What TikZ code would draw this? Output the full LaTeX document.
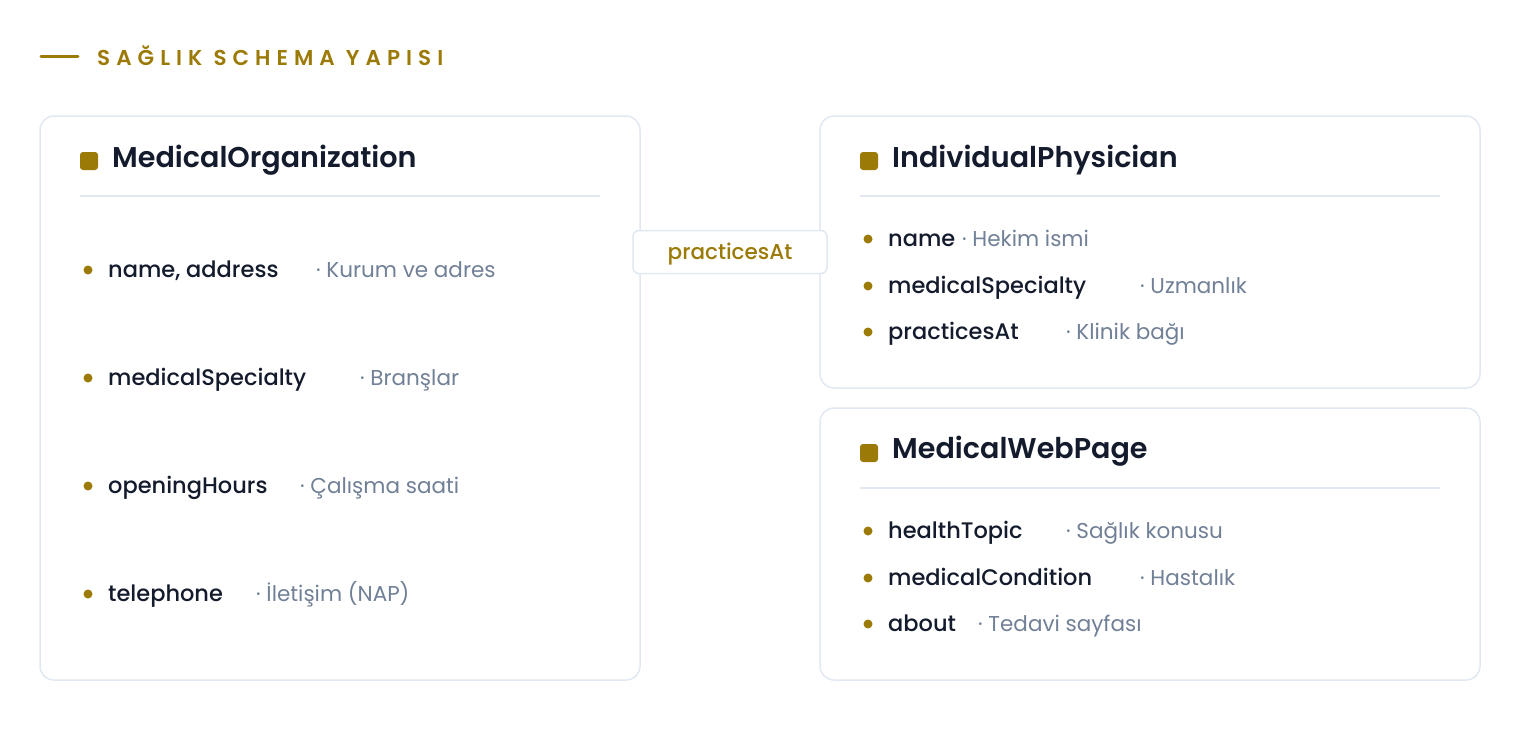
\documentclass[tikz,border=0pt]{standalone}
\usepackage{fontspec}
\setmainfont{Poppins}[UprightFont={Poppins Medium},BoldFont={Poppins SemiBold}]
\newfontfamily\dscfont{Poppins}
\newfontfamily\headfont[LetterSpace=28]{Poppins SemiBold}
\definecolor{gold}{HTML}{9C7A08}
\definecolor{ink}{HTML}{141B2D}
\definecolor{muted}{HTML}{718096}
\definecolor{cardline}{HTML}{E2E8F0}
\begin{document}
\begin{tikzpicture}[x=1pt,y=-1pt,
    card/.style={draw=cardline,line width=1.5pt,rounded corners=14pt,fill=white},
    sep/.style={draw=cardline,line width=1.5pt},
    sq/.style={fill=gold,rounded corners=3pt,minimum size=18pt,inner sep=0pt},
    dot/.style={circle,fill=gold,minimum size=9pt,inner sep=0pt},
    ttl/.style={anchor=west,inner sep=0pt,text=ink,font=\fontsize{28.6}{32}\selectfont\bfseries},
    fld/.style={anchor=west,inner sep=0pt,text=ink,text height=18pt,text depth=3pt,font=\fontsize{22.5}{26}\selectfont},
    dsc/.style={anchor=west,inner sep=0pt,text=muted,text height=18pt,text depth=3pt,font=\dscfont\fontsize{21.5}{26}\selectfont},
    tag/.style={draw=cardline,line width=1.5pt,fill=white,rounded corners=6pt,
        minimum width=194pt,minimum height=43pt,text=gold,text height=18pt,text depth=3pt,
        font=\fontsize{21.5}{24}\selectfont}]
    \useasboundingbox (0,0) rectangle (1520,740);
    % tieu de
    \draw[gold,line width=3pt,line cap=round] (41,56) -- (78,56);
    \node[anchor=west,inner sep=0pt,text=gold,font=\headfont\fontsize{21.5}{24}\selectfont]
        (head) at (97,56) {SAĞLIK SCHEMA YAPISI};
    % MedicalOrganization
    \draw[card] (40,116) rectangle (640,680);
    \path
    (89,161) node[sq] (orgsq) {}
    ++(23,-1) node[ttl] (org) {MedicalOrganization};
    \draw[sep] (80,196) -- (600,196);
    \path
    (88,270) node[dot] (o1) {} ++(20,0) node[fld] (o1n) {name, address}
    (88,378) node[dot] (o2) {} ++(20,0) node[fld] (o2n) {medicalSpecialty}
    (88,486) node[dot] (o3) {} ++(20,0) node[fld] (o3n) {openingHours}
    (88,594) node[dot] (o4) {} ++(20,0) node[fld] (o4n) {telephone};
    \path
    (316,270) node[dsc] (o1d) {· Kurum ve adres}
    (360,378) node[dsc] (o2d) {· Branşlar}
    (300,486) node[dsc] (o3d) {· Çalışma saati}
    (256,594) node[dsc] (o4d) {· İletişim (NAP)};
    % IndividualPhysician
    \draw[card] (820,116) rectangle (1480,388);
    \path
    (869,161) node[sq] (docsq) {}
    ++(23,-1) node[ttl] (doc) {IndividualPhysician};
    \draw[sep] (860,196) -- (1440,196);
    \path
    (868,239) node[dot] (d1) {} ++(20,0) node[fld] (d1n) {name}
    (868,286) node[dot] (d2) {} ++(20,0) node[fld] (d2n) {medicalSpecialty}
    (868,332) node[dot] (d3) {} ++(20,0) node[fld] (d3n) {practicesAt};
    \path
    (962,239) node[dsc] (d1d) {· Hekim ismi}
    (1140,286) node[dsc] (d2d) {· Uzmanlık}
    (1066,332) node[dsc] (d3d) {· Klinik bağı};
    % MedicalWebPage
    \draw[card] (820,408) rectangle (1480,680);
    \path
    (869,453) node[sq] (websq) {}
    ++(23,-2) node[ttl] (web) {MedicalWebPage};
    \draw[sep] (860,488) -- (1440,488);
    \path
    (868,531) node[dot] (w1) {} ++(20,0) node[fld] (w1n) {healthTopic}
    (868,578) node[dot] (w2) {} ++(20,0) node[fld] (w2n) {medicalCondition}
    (868,624) node[dot] (w3) {} ++(20,0) node[fld] (w3n) {about};
    \path
    (1066,531) node[dsc] (w1d) {· Sağlık konusu}
    (1140,578) node[dsc] (w2d) {· Hastalık}
    (978,624) node[dsc] (w3d) {· Tedavi sayfası};
    % iliski etiketi
    \node[tag] (rel) at (730,252) {practicesAt};
\end{tikzpicture}
\end{document}
